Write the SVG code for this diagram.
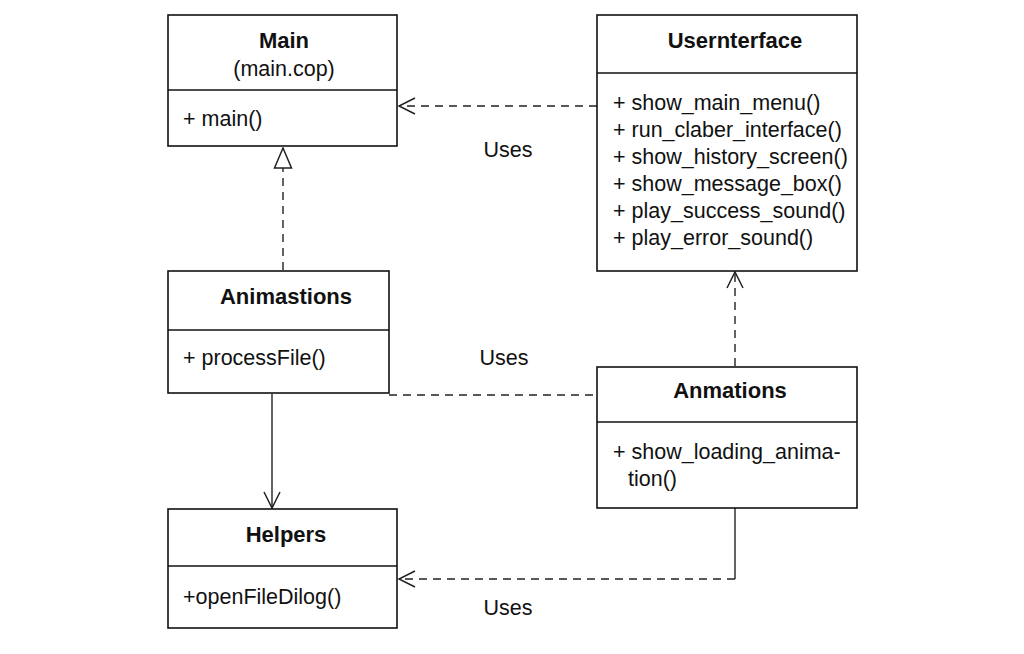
<svg xmlns="http://www.w3.org/2000/svg" width="1024" height="654" viewBox="0 0 1024 654">
<style>
.box{fill:#fff;stroke:#111;stroke-width:1.6}
.div{stroke:#111;stroke-width:1.4}
.t{font-family:"Liberation Sans",Arial,sans-serif;font-size:22px;font-weight:bold;fill:#111;text-anchor:middle}
.s{font-family:"Liberation Sans",Arial,sans-serif;font-size:21.5px;fill:#111;text-anchor:middle}
.m{font-family:"Liberation Sans",Arial,sans-serif;font-size:21.5px;fill:#111}
.l{font-family:"Liberation Sans",Arial,sans-serif;font-size:21.5px;fill:#111;text-anchor:middle}
.dash{fill:none;stroke:#222;stroke-width:1.4;stroke-dasharray:8 6}
.solid{fill:none;stroke:#222;stroke-width:1.4}
</style>
<defs>
<marker id="open" viewBox="0 0 20 20" refX="18" refY="10" markerWidth="20" markerHeight="20" markerUnits="userSpaceOnUse" orient="auto">
<path d="M2,2 L18,10 L2,18" fill="none" stroke="#222" stroke-width="1.5"/>
</marker>
<marker id="tri" viewBox="0 0 22 20" refX="21" refY="10" markerWidth="22" markerHeight="20" markerUnits="userSpaceOnUse" orient="auto">
<path d="M1,1.5 L21,10 L1,18.5 Z" fill="#fff" stroke="#222" stroke-width="1.5"/>
</marker>
</defs>
<rect width="1024" height="654" fill="#fff"/>
<g id="connectors">
<path class="dash" d="M597,106 L399,106" marker-end="url(#open)"/>
<path class="dash" d="M283,270 L283,148" marker-end="url(#tri)"/>
<path class="dash" d="M735,366 L735,272" marker-end="url(#open)"/>
<path class="dash" d="M389,395 L597,395"/>
<path class="solid" d="M272,394 L272,508" marker-end="url(#open)"/>
<path class="solid" d="M735,508 L735,579"/>
<path class="dash" d="M735,579 L399,579" marker-end="url(#open)"/>
<text class="l" x="508" y="157">Uses</text>
<text class="l" x="504" y="365">Uses</text>
<text class="l" x="508" y="615">Uses</text>
</g>
<g id="Main">
<rect class="box" x="168" y="15" width="229" height="131"/>
<line class="div" x1="168" y1="90" x2="397" y2="90"/>
<text class="t" x="284" y="48">Main</text>
<text class="s" x="284" y="76">(main.cop)</text>
<text class="m" x="183" y="126">+ main()</text>
</g>
<g id="UserInterface">
<rect class="box" x="597" y="15" width="260" height="256"/>
<line class="div" x1="597" y1="73" x2="857" y2="73"/>
<text class="t" x="735" y="48">Usernterface</text>
<text class="m" x="613" y="110">+ show_main_menu()</text>
<text class="m" x="613" y="137">+ run_claber_interface()</text>
<text class="m" x="613" y="164">+ show_history_screen()</text>
<text class="m" x="613" y="191">+ show_message_box()</text>
<text class="m" x="613" y="218">+ play_success_sound()</text>
<text class="m" x="613" y="245">+ play_error_sound()</text>
</g>
<g id="Animastions">
<rect class="box" x="168" y="271" width="221" height="122"/>
<line class="div" x1="168" y1="330" x2="389" y2="330"/>
<text class="t" x="286" y="304">Animastions</text>
<text class="m" x="183" y="365">+ processFile()</text>
</g>
<g id="Anmations">
<rect class="box" x="597" y="367" width="260" height="141"/>
<line class="div" x1="597" y1="422" x2="857" y2="422"/>
<text class="t" x="730" y="398">Anmations</text>
<text class="m" x="613" y="459">+ show_loading_anima-</text>
<text class="m" x="628" y="486">tion()</text>
</g>
<g id="Helpers">
<rect class="box" x="168" y="509" width="229" height="119"/>
<line class="div" x1="168" y1="566" x2="397" y2="566"/>
<text class="t" x="286" y="542">Helpers</text>
<text class="m" x="183" y="604">+openFileDilog()</text>
</g>
</svg>
